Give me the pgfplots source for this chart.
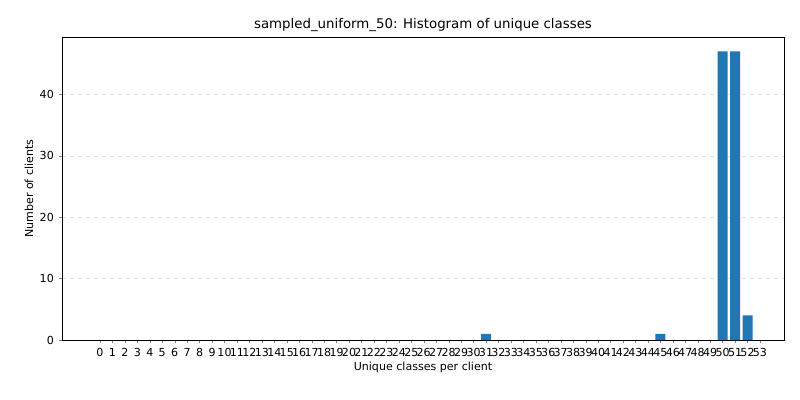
\documentclass[border=0pt]{standalone}
\usepackage{pgfplots}
\pgfplotsset{compat=1.18}
\usepackage{fontspec}
\setmainfont{DejaVu Sans}
\definecolor{mplblue}{HTML}{1F77B4}
\begin{document}
\begin{tikzpicture}
\path[use as bounding box] (-46.5pt,-45pt) rectangle (553.5pt,255pt);
\begin{axis}[
  scale only axis, width=541.5pt, height=227pt,
  xmin=-3.05, xmax=54.93, ymin=0, ymax=49.3,
  xtick={0,...,53},
  ytick={0,10,20,30,40},
  tick label style={font=\fontsize{8.3}{10}\selectfont},
  /pgf/number format/assume math mode=true,
  xlabel={Unique classes per client}, ylabel={Number of clients},
  label style={font=\fontsize{8.3}{10}\selectfont},
  title={sampled\_uniform\_50: Histogram of unique classes},
  title style={font=\fontsize{10}{12}\selectfont, yshift=-5pt},
  ymajorgrids, grid style={dashed, gray!25},
  tick align=outside, major tick length=2.6pt,
  xtick pos=bottom, ytick pos=left,
  xlabel style={yshift=3pt}, ylabel style={yshift=-2pt},
]
\addplot[ybar, bar width=0.8, fill=mplblue, draw=none, bar shift=0pt]
 coordinates {(31,1) (45,1) (50,47) (51,47) (52,4)};
\end{axis}
\end{tikzpicture}
\end{document}
